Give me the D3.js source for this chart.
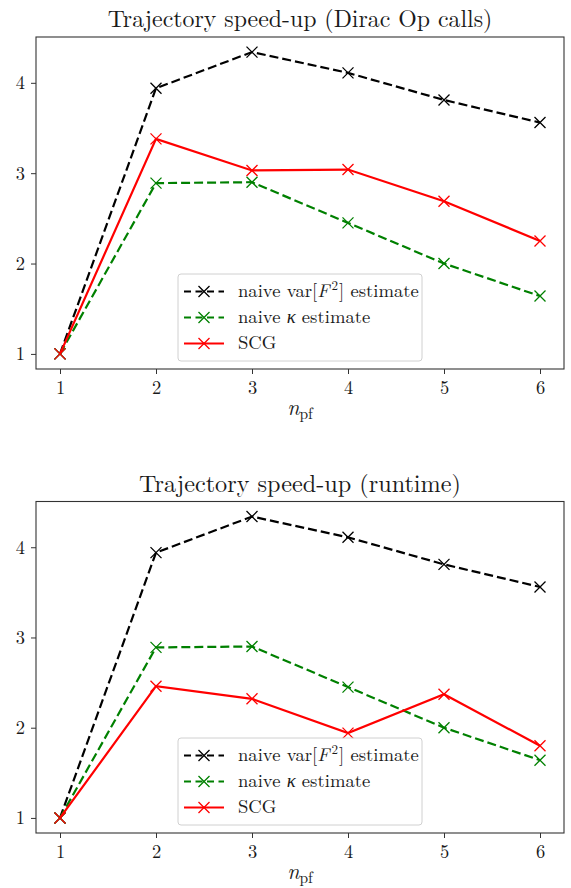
<!DOCTYPE html>
<html><head><meta charset="utf-8">
<script src="https://cdn.jsdelivr.net/npm/d3@7"></script>
<style>body{margin:0;background:#fff}svg{display:block}</style>
</head><body>
<svg id="c" width="571" height="888"></svg>
<script>
const nPf = [1, 2, 3, 4, 5, 6];
const xTicks = [1, 2, 3, 4, 5, 6];
const yTicks = [1, 2, 3, 4];
const titles = ["Trajectory speed-up (Dirac Op calls)", "Trajectory speed-up (runtime)"];
const seriesNames = ["naive var[F²] estimate", "naive κ estimate", "SCG"];
const seriesColors = ["#000000", "#008000", "#ff0000"];
const seriesDash = ["9,4", "9,4", null];
// top panel (Dirac Op calls)
const varOpCalls = [1.0, 3.94, 4.34, 4.11, 3.81, 3.56];
const kappaOpCalls = [1.0, 2.89, 2.90, 2.45, 2.00, 1.64];
const scgOpCalls = [1.0, 3.38, 3.03, 3.04, 2.69, 2.25];
// bottom panel (runtime)
const varRuntime = [1.0, 3.94, 4.34, 4.11, 3.81, 3.56];
const kappaRuntime = [1.0, 2.89, 2.90, 2.45, 2.00, 1.64];
const scgRuntime = [1.0, 2.46, 2.32, 1.94, 2.37, 1.80];

const panels = [
  {title: titles[0], series: [varOpCalls, kappaOpCalls, scgOpCalls], top: 37, bottom: 369},
  {title: titles[1], series: [varRuntime, kappaRuntime, scgRuntime], top: 501.5, bottom: 833}
];
const svg = d3.select("#c");
const L = 36, R = 564;
const serif = "'Latin Modern Roman', 'Liberation Serif', serif";
const frameCol = "#333";
const txtCol = "#1a1a1a";

function fitText(sel, w) {
  const cur = sel.node().getComputedTextLength();
  const fs = parseFloat(sel.style("font-size"));
  const nf = cur > 0 ? fs * w / cur : fs;
  sel.style("font-size", nf + "px");
  return nf;
}

panels.forEach((p, pi) => {
  const x = d3.scaleLinear().domain([0.75, 6.25]).range([L, R]);
  const allV = p.series.flat();
  const mn = d3.min(allV), mx = d3.max(allV), pad = (mx - mn) * 0.05;
  const y = d3.scaleLinear().domain([mn - pad, mx + pad]).range([p.bottom, p.top]);
  const g = svg.append("g");

  const line = d3.line().x((d, i) => x(nPf[i])).y(d => y(d));
  p.series.forEach((s, si) => {
    g.append("path").datum(s).attr("d", line).attr("fill", "none")
      .attr("stroke", seriesColors[si]).attr("stroke-width", 2.2)
      .attr("stroke-dasharray", seriesDash[si]);
    const ms = 5.5;
    g.selectAll(null).data(s).enter().append("path")
      .attr("d", (d, i) => {
        const cx = x(nPf[i]), cy = y(d);
        return `M${cx-ms},${cy-ms}L${cx+ms},${cy+ms}M${cx-ms},${cy+ms}L${cx+ms},${cy-ms}`;
      })
      .attr("stroke", seriesColors[si]).attr("stroke-width", 1.3).attr("fill", "none");
  });

  g.append("rect").attr("x", L).attr("y", p.top).attr("width", R - L).attr("height", p.bottom - p.top)
    .attr("fill", "none").attr("stroke", frameCol).attr("stroke-width", 1.1);

  const xa = g.append("g").attr("transform", `translate(0,${p.bottom})`)
    .call(d3.axisBottom(x).tickValues(xTicks).tickSize(5).tickPadding(7).tickFormat(d3.format("d")));
  const ya = g.append("g").attr("transform", `translate(${L},0)`)
    .call(d3.axisLeft(y).tickValues(yTicks).tickSize(5).tickPadding(6).tickFormat(d3.format("d")));
  [xa, ya].forEach(a => {
    a.select(".domain").remove();
    a.selectAll(".tick line").attr("stroke", frameCol).attr("stroke-width", 1);
    a.selectAll(".tick text").style("font-family", serif).style("font-size", "18.5px").attr("fill", txtCol);
  });

  const t = g.append("text").attr("x", (L + R) / 2).attr("y", p.top - 10)
    .attr("text-anchor", "middle").style("font-family", serif).style("font-size", "22px")
    .attr("fill", txtCol).text(p.title);
  fitText(t, pi === 0 ? 385 : 322);

  const xl = g.append("text").attr("x", (L + R) / 2).attr("y", p.bottom + 46)
    .attr("text-anchor", "middle").style("font-family", serif).style("font-size", "22px").attr("fill", txtCol);
  xl.append("tspan").attr("font-style", "italic").text("n");
  xl.append("tspan").style("font-size", "15.5px").attr("dy", 4).text("pf");

  const lx = 178, ly = p.bottom - 95, lw = 244, lh = 87;
  const lg = g.append("g");
  lg.append("rect").attr("x", lx).attr("y", ly).attr("width", lw).attr("height", lh)
    .attr("rx", 3).attr("fill", "#fff").attr("fill-opacity", 0.85)
    .attr("stroke", "#d0d0d0").attr("stroke-width", 1);
  let legFs = 17.5;
  seriesNames.forEach((nm, si) => {
    const cy = ly + 17.5 + si * 26;
    lg.append("line").attr("x1", lx + 6).attr("x2", lx + 46).attr("y1", cy).attr("y2", cy)
      .attr("stroke", seriesColors[si]).attr("stroke-width", 2.2)
      .attr("stroke-dasharray", seriesDash[si] ? "7,4.5" : null);
    const ms = 5.5, cx = lx + 26;
    lg.append("path").attr("d", `M${cx-ms},${cy-ms}L${cx+ms},${cy+ms}M${cx-ms},${cy+ms}L${cx+ms},${cy-ms}`)
      .attr("stroke", seriesColors[si]).attr("stroke-width", 1.3);
    const tx = lg.append("text").attr("x", lx + 60).attr("y", cy + 5.5)
      .style("font-family", serif).style("font-size", legFs + "px").attr("fill", txtCol);
    if (si === 0) {
      tx.append("tspan").text("naive var[");
      tx.append("tspan").attr("font-style", "italic").text("F");
      tx.append("tspan").style("font-size", "0.7em").attr("dx", 2).attr("dy", -7).text("2");
      tx.append("tspan").attr("dx", 1).attr("dy", 7).text("] estimate");
      legFs = fitText(tx, 178);
    } else if (si === 1) {
      tx.append("tspan").text("naive ");
      tx.append("tspan").attr("font-style", "italic").text("κ");
      tx.append("tspan").text(" estimate");
    } else {
      tx.text("SCG");
    }
  });
});
</script>
</body></html>
